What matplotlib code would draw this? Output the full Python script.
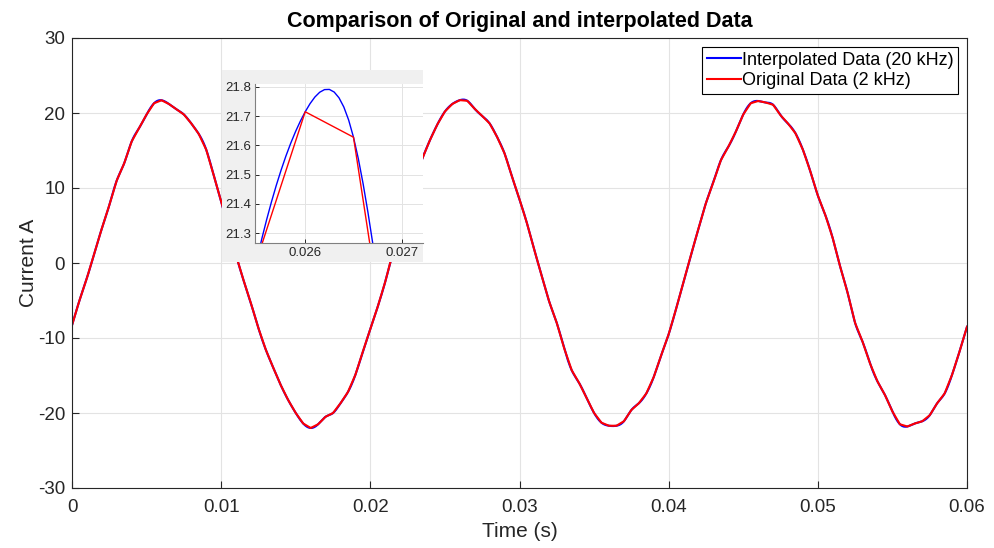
import numpy as np
import matplotlib
matplotlib.use("Agg")
import matplotlib.pyplot as plt

plt.rcParams['font.family'] = ['Liberation Sans', 'DejaVu Sans']
plt.rcParams['axes.unicode_minus'] = False

# ================== DONNÉES ==================
fs_orig = 2000      # Hz
fs_interp = 20000   # Hz
t_end = 0.06

courant = [
    -8.3, -5.0, -2.0, 1.3, 4.6, 7.7, 11.0, 13.3, 16.2, 18.0,
    19.8, 21.3, 21.7, 21.2, 20.5, 19.8, 18.6, 17.2, 15.1, 11.7,
    8.2, 4.6, 1.0, -2.3, -5.4, -8.7, -11.6, -14.0, -16.3, -18.3,
    -20.0, -21.4, -22.0, -21.5, -20.5, -20.0, -18.7, -17.2, -14.9, -11.8,
    -8.8, -5.8, -2.5, 1.3, 4.8, 8.0, 11.2, 14.0, 16.4, 18.5,
    20.2, 21.21, 21.715, 21.628, 20.55, 19.6, 18.6, 16.8, 14.6, 11.5,
    8.5, 5.3, 1.7, -1.8, -5.2, -8.0, -11.4, -14.3, -16.0, -18.0,
    -20.0, -21.3, -21.7, -21.7, -21.1, -19.6, -18.7, -17.4, -15.2, -12.3,
    -9.5, -6.1, -2.5, 1.1, 4.6, 8.0, 10.8, 13.7, 15.5, 17.5,
    19.8, 21.3, 21.6, 21.4, 21.1, 19.7, 18.6, 17.3, 15.1, 12.2,
    9.0, 6.4, 3.3, -0.5, -4.0, -8.0, -10.5, -13.4, -15.8, -17.6,
    -19.8, -21.5, -21.8, -21.4, -21.1, -20.3, -18.7, -17.4, -14.9, -11.8,
    -8.5,
]

x_ticks = [0, 0.01, 0.02, 0.03, 0.04, 0.05, 0.06]
y_ticks = [-30, -20, -10, 0, 10, 20, 30]
zoom_xticks = [0.026, 0.027]
zoom_yticks = [21.3, 21.4, 21.5, 21.6, 21.7, 21.8]


# ================== INTERPOLATION (spline cubique) ==================
def spline_cubique(x, y, xq):
    # spline naturelle, sans scipy
    x = np.asarray(x, float)
    y = np.asarray(y, float)
    n = len(x)
    h = np.diff(x)
    M = np.zeros((n, n))
    r = np.zeros(n)
    M[0, 0] = 1
    M[-1, -1] = 1
    for i in range(1, n - 1):
        M[i, i - 1] = h[i - 1]
        M[i, i] = 2 * (h[i - 1] + h[i])
        M[i, i + 1] = h[i]
        r[i] = 6 * ((y[i + 1] - y[i]) / h[i] - (y[i] - y[i - 1]) / h[i - 1])
    m = np.linalg.solve(M, r)
    k = np.clip(np.searchsorted(x, xq) - 1, 0, n - 2)
    a = x[k + 1] - xq
    b = xq - x[k]
    hk = h[k]
    return (m[k] * a**3 + m[k + 1] * b**3) / (6 * hk) \
        + (y[k] / hk - m[k] * hk / 6) * a + (y[k + 1] / hk - m[k + 1] * hk / 6) * b


t_orig = np.arange(len(courant)) / fs_orig
t_interp = np.arange(int(round(t_end * fs_interp)) + 1) / fs_interp
courant_interp = spline_cubique(t_orig, courant, t_interp)


# ================== AFFICHAGE GRAPHIQUE ==================
W, H = 994, 548
fig = plt.figure(figsize=(W / 100, H / 100), dpi=100)
axe_col = '#262626'
grid_col = '#e3e3e3'


def pos(x0, y0, x1, y1):
    return [x0 / W, 1 - y1 / H, (x1 - x0) / W, (y1 - y0) / H]


ax = fig.add_axes(pos(72, 38, 967, 488))
ax.plot(t_interp, courant_interp, color='#0000ff', lw=1.5, label='Interpolated Data (20 kHz)')
ax.plot(t_orig, courant, color='#ff0000', lw=1.5, label='Original Data (2 kHz)')
ax.set_xlim(0, 0.06)
ax.set_ylim(-30, 30)
ax.set_xticks(x_ticks)
ax.set_xticklabels(['0', '0.01', '0.02', '0.03', '0.04', '0.05', '0.06'])
ax.set_yticks(y_ticks)
ax.grid(True, color=grid_col, lw=0.8)
ax.set_axisbelow(True)
ax.tick_params(direction='in', length=5, width=0.8, colors=axe_col, labelsize=13.5)
ax.tick_params(axis='x', pad=8)
ax.tick_params(axis='y', pad=5)
for s in ax.spines.values():
    s.set_color(axe_col)
    s.set_linewidth(0.8)
ax.set_xlabel('Time (s)', fontsize=15, color=axe_col, labelpad=4)
ax.set_ylabel('Current A', fontsize=15, color=axe_col, labelpad=0)
ax.set_title('Comparison of Original and interpolated Data', fontsize=15.5,
             fontweight='bold', pad=8)
leg = ax.legend(loc='upper right', fontsize=13, fancybox=False, framealpha=1,
                edgecolor='black', borderaxespad=0.5, handlelength=1.9,
                handletextpad=0.05, labelspacing=0.2, borderpad=0.25)
leg.get_frame().set_linewidth(0.8)

# fond gris du zoom
fond = fig.add_axes(pos(222, 70, 423, 262))
fond.set_facecolor('#f0f0f0')
fond.set_xticks([])
fond.set_yticks([])
for s in fond.spines.values():
    s.set_visible(False)

# zoom sur le pic
axz = fig.add_axes(pos(255, 84, 423, 243))
axz.plot(t_interp, courant_interp, color='#0000ff', lw=1.0)
axz.plot(t_orig, courant, color='#ff0000', lw=1.0)
axz.set_xlim(0.02548, 0.02722)
axz.set_ylim(21.266, 21.81)
axz.set_xticks(zoom_xticks)
axz.set_xticklabels(['0.026', '0.027'])
axz.set_yticks(zoom_yticks)
axz.grid(True, color=grid_col, lw=0.7)
axz.set_axisbelow(True)
axz.tick_params(direction='in', length=3, width=0.7, colors=axe_col, labelsize=9.5, pad=3)
axz.spines['top'].set_visible(False)
axz.spines['right'].set_visible(False)
for s in ['left', 'bottom']:
    axz.spines[s].set_color('#808080')
    axz.spines[s].set_linewidth(0.8)

plt.savefig('out.png', dpi=100)
